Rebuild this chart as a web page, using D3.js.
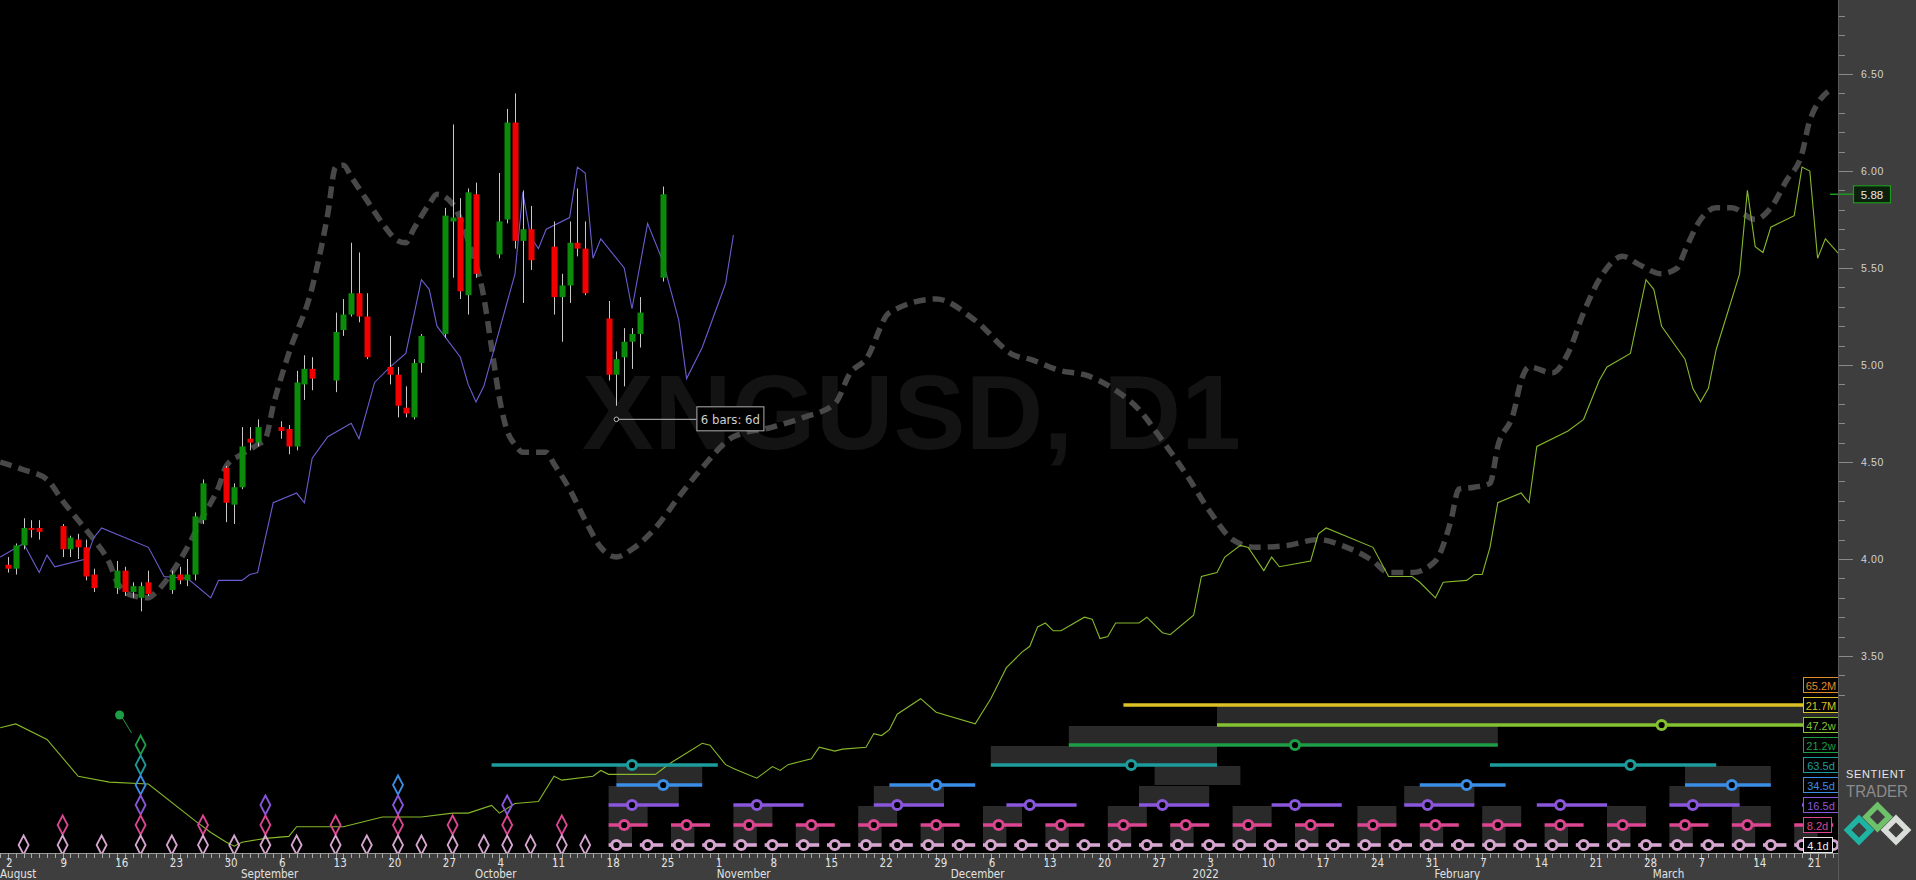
<!DOCTYPE html>
<html><head><meta charset="utf-8">
<script src="https://cdn.jsdelivr.net/npm/d3@7"></script>
<style>
html,body{margin:0;padding:0;background:#000;overflow:hidden}
svg{display:block}
</style></head><body>
<svg id="chart" width="1916" height="880"></svg>
<script>
// ---------------- DATA ----------------
const symbolText = "XNGUSD, D1";
const candleDates = ["2021-08-02","2021-08-03","2021-08-04","2021-08-05","2021-08-06","2021-08-09","2021-08-10","2021-08-11","2021-08-12","2021-08-13","2021-08-16","2021-08-17","2021-08-18","2021-08-19","2021-08-20","2021-08-23","2021-08-24","2021-08-25","2021-08-26","2021-08-27","2021-08-30","2021-08-31","2021-09-01","2021-09-02","2021-09-03","2021-09-06","2021-09-07","2021-09-08","2021-09-09","2021-09-10","2021-09-13","2021-09-14","2021-09-15","2021-09-16","2021-09-17","2021-09-20","2021-09-21","2021-09-22","2021-09-23","2021-09-24","2021-09-27","2021-09-28","2021-09-29","2021-09-30","2021-10-01","2021-10-04","2021-10-05","2021-10-06","2021-10-07","2021-10-08","2021-10-11","2021-10-12","2021-10-13","2021-10-14","2021-10-15","2021-10-18","2021-10-19","2021-10-20","2021-10-21","2021-10-22","2021-10-25"];
const candleOpen  = [3.97,3.95,4.07,4.16,4.16,4.17,4.05,4.10,4.06,3.92,3.85,3.94,3.83,3.80,3.88,3.84,3.92,3.89,3.92,4.20,4.47,4.28,4.37,4.62,4.60,4.68,4.67,4.58,4.90,4.98,4.92,5.18,5.26,5.37,5.25,4.99,4.95,4.78,4.73,5.01,5.16,5.74,5.76,5.36,5.88,5.57,5.75,6.25,5.64,5.70,5.61,5.35,5.41,5.63,5.60,5.24,4.95,5.04,5.12,5.16,5.45];
const candleHigh  = [4.01,4.08,4.21,4.20,4.20,4.18,4.12,4.13,4.10,3.95,3.99,3.96,3.88,3.88,3.94,3.94,3.96,4.00,4.24,4.41,4.48,4.39,4.68,4.68,4.72,4.71,4.69,4.97,5.05,5.04,5.27,5.34,5.63,5.58,5.37,5.15,4.99,4.89,5.03,5.16,5.81,6.24,5.86,5.91,5.94,5.99,6.32,6.40,5.90,5.82,5.74,5.47,5.74,5.91,5.74,5.33,5.07,5.19,5.19,5.35,5.92];
const candleLow   = [3.93,3.92,4.05,4.11,4.10,4.01,4.01,4.00,3.89,3.83,3.82,3.81,3.80,3.73,3.81,3.82,3.87,3.86,3.89,4.18,4.19,4.18,4.36,4.56,4.58,4.62,4.54,4.56,4.82,4.87,4.86,5.15,5.25,5.22,5.03,4.90,4.73,4.73,4.72,4.96,5.14,5.45,5.34,5.26,5.45,5.55,5.73,5.60,5.32,5.49,5.26,5.12,5.32,5.56,5.36,4.92,4.79,4.89,4.98,5.09,5.43];
const candleClose = [3.95,4.07,4.16,4.15,4.14,4.05,4.11,4.06,3.91,3.85,3.94,3.83,3.86,3.86,3.82,3.92,3.89,3.92,4.22,4.39,4.29,4.37,4.58,4.60,4.68,4.66,4.58,4.91,4.98,4.93,5.17,5.26,5.37,5.25,5.04,4.95,4.79,4.75,5.01,5.15,5.77,5.76,5.38,5.89,5.47,5.74,6.25,5.64,5.70,5.54,5.35,5.41,5.63,5.60,5.37,4.95,5.03,5.12,5.16,5.27,5.88];
const lastPrice = 5.88;

// Composite cycle model (thick dashed)
const modelDates = ["2021-08-01","2021-08-04","2021-08-07","2021-08-09","2021-08-11","2021-08-13","2021-08-15","2021-08-16","2021-08-18","2021-08-20","2021-08-21","2021-08-23","2021-08-25","2021-08-27","2021-08-29","2021-08-30","2021-09-01","2021-09-03","2021-09-04","2021-09-05","2021-09-07","2021-09-10","2021-09-12","2021-09-13","2021-09-14","2021-09-15","2021-09-17","2021-09-19","2021-09-21","2021-09-22","2021-09-23","2021-09-25","2021-09-26","2021-09-28","2021-09-30","2021-10-02","2021-10-03","2021-10-04","2021-10-05","2021-10-06","2021-10-07","2021-10-10","2021-10-11","2021-10-13","2021-10-15","2021-10-17","2021-10-19","2021-10-21","2021-10-24","2021-10-27","2021-10-30","2021-11-03","2021-11-08","2021-11-12","2021-11-16","2021-11-18","2021-11-20","2021-11-23","2021-11-29","2021-12-04","2021-12-09","2021-12-11","2021-12-15","2021-12-18","2021-12-22","2021-12-25","2021-12-28","2021-12-31","2022-01-03","2022-01-06","2022-01-09","2022-01-13","2022-01-17","2022-01-20","2022-01-24","2022-01-26","2022-01-29","2022-02-01","2022-02-03","2022-02-04","2022-02-06","2022-02-08","2022-02-09","2022-02-11","2022-02-12","2022-02-13","2022-02-16","2022-02-18","2022-02-20","2022-02-22","2022-02-25","2022-02-27","2022-03-02","2022-03-04","2022-03-05","2022-03-07","2022-03-09","2022-03-11","2022-03-14","2022-03-16","2022-03-18","2022-03-20","2022-03-21","2022-03-24"];
const modelValues = [4.50,4.46,4.41,4.30,4.20,4.10,3.98,3.88,3.81,3.80,3.83,3.93,4.06,4.22,4.37,4.48,4.54,4.59,4.62,4.79,5.06,5.40,5.78,6.02,6.03,5.97,5.85,5.73,5.64,5.63,5.70,5.83,5.88,5.83,5.64,5.35,5.09,4.83,4.66,4.59,4.55,4.55,4.49,4.36,4.20,4.06,4.01,4.05,4.16,4.32,4.47,4.63,4.68,4.73,4.80,4.96,5.03,5.27,5.34,5.23,5.05,5.03,4.97,4.95,4.87,4.77,4.61,4.44,4.25,4.10,4.06,4.07,4.10,4.07,3.99,3.93,3.93,3.99,4.20,4.36,4.37,4.39,4.58,4.75,4.92,4.99,4.96,5.06,5.27,5.44,5.56,5.52,5.47,5.50,5.59,5.75,5.81,5.81,5.75,5.81,5.95,6.09,6.26,6.43];

// Short FLD (thin purple)
const fldShortDates = ["2021-08-01","2021-08-04","2021-08-06","2021-08-07","2021-08-08","2021-08-12","2021-08-13","2021-08-14","2021-08-20","2021-08-22","2021-08-25","2021-08-28","2021-08-29","2021-09-01","2021-09-02","2021-09-03","2021-09-05","2021-09-08","2021-09-09","2021-09-10","2021-09-12","2021-09-15","2021-09-16","2021-09-18","2021-09-20","2021-09-22","2021-09-24","2021-09-25","2021-09-26","2021-09-29","2021-09-30","2021-10-01","2021-10-02","2021-10-06","2021-10-07","2021-10-08","2021-10-09","2021-10-10","2021-10-13","2021-10-14","2021-10-15","2021-10-16","2021-10-17","2021-10-20","2021-10-21","2021-10-23","2021-10-25","2021-10-27","2021-10-28","2021-10-30","2021-11-02","2021-11-03"];
const fldShortValues = [4.01,4.08,3.93,4.02,3.96,4.00,4.11,4.16,4.06,3.91,3.90,3.80,3.89,3.89,3.92,3.93,4.29,4.34,4.29,4.52,4.63,4.70,4.62,4.91,4.99,5.06,5.44,5.39,5.20,5.04,4.90,4.81,4.89,5.47,5.89,5.66,5.60,5.70,5.76,6.02,5.99,5.55,5.65,5.50,5.29,5.73,5.53,5.23,4.93,5.09,5.42,5.67];

// Long FLD (thin lime)
const fldLongDates = ["2021-08-01","2021-08-03","2021-08-07","2021-08-11","2021-08-15","2021-08-20","2021-08-26","2021-08-28","2021-08-30","2021-08-31","2021-09-01","2021-09-04","2021-09-07","2021-09-08","2021-09-14","2021-09-19","2021-09-24","2021-09-28","2021-09-30","2021-10-03","2021-10-04","2021-10-06","2021-10-09","2021-10-11","2021-10-12","2021-10-16","2021-10-17","2021-10-18","2021-10-24","2021-10-25","2021-10-26","2021-10-30","2021-10-31","2021-11-02","2021-11-03","2021-11-06","2021-11-08","2021-11-09","2021-11-10","2021-11-13","2021-11-14","2021-11-16","2021-11-17","2021-11-20","2021-11-21","2021-11-22","2021-11-23","2021-11-24","2021-11-27","2021-11-29","2021-12-04","2021-12-06","2021-12-07","2021-12-08","2021-12-10","2021-12-11","2021-12-12","2021-12-13","2021-12-14","2021-12-15","2021-12-18","2021-12-19","2021-12-20","2021-12-21","2021-12-22","2021-12-25","2021-12-26","2021-12-28","2021-12-29","2022-01-01","2022-01-02","2022-01-04","2022-01-05","2022-01-07","2022-01-08","2022-01-10","2022-01-11","2022-01-12","2022-01-16","2022-01-17","2022-01-18","2022-01-24","2022-01-26","2022-01-29","2022-01-30","2022-02-01","2022-02-02","2022-02-05","2022-02-06","2022-02-07","2022-02-08","2022-02-09","2022-02-12","2022-02-13","2022-02-14","2022-02-18","2022-02-20","2022-02-22","2022-02-23","2022-02-26","2022-02-28","2022-03-01","2022-03-02","2022-03-05","2022-03-06","2022-03-07","2022-03-08","2022-03-09","2022-03-12","2022-03-13","2022-03-14","2022-03-15","2022-03-16","2022-03-19","2022-03-20","2022-03-21","2022-03-22","2022-03-23","2022-03-25"];
const fldLongValues = [3.13,3.15,3.07,2.88,2.85,2.84,2.65,2.59,2.54,2.52,2.54,2.56,2.57,2.62,2.62,2.67,2.67,2.69,2.69,2.73,2.69,2.74,2.75,2.88,2.86,2.88,2.91,2.89,2.89,2.92,2.95,3.05,3.04,2.94,2.92,2.87,2.93,2.91,2.94,2.97,3.03,3.01,3.02,3.03,3.10,3.09,3.12,3.20,3.28,3.21,3.15,3.28,3.36,3.44,3.52,3.55,3.65,3.67,3.63,3.63,3.70,3.69,3.59,3.60,3.67,3.67,3.70,3.62,3.61,3.71,3.91,3.93,4.01,4.07,4.06,3.94,4.01,3.96,3.99,4.13,4.16,4.06,3.91,3.91,3.88,3.80,3.88,3.89,3.92,3.92,4.06,4.29,4.34,4.29,4.58,4.66,4.72,4.92,4.99,5.06,5.44,5.39,5.20,5.03,4.88,4.81,4.88,5.08,5.47,5.90,5.61,5.58,5.71,5.77,6.02,6.00,5.55,5.65,5.56];

// Cycle rows (labels top to bottom)
const cycleLabels = ["65.2M","21.7M","47.2w","21.2w","63.5d","34.5d","16.5d","8.2d","4.1d"];
const troughs21_7M = ["2022-06-01"];
const troughs47_2w = ["2022-03-02"];
const troughs21_2w = ["2022-01-14"];
const troughs63_5d = ["2021-10-21","2021-12-24","2022-02-26"];
const troughs34_5d = ["2021-10-25","2021-11-29","2022-02-05","2022-03-11"];
const troughs16_5d = ["2021-10-21","2021-11-06","2021-11-24","2021-12-11","2021-12-28","2022-01-14","2022-01-31","2022-02-17","2022-03-06","2022-03-23"];
const troughs8_2d = ["2021-10-20","2021-10-28","2021-11-05","2021-11-13","2021-11-21","2021-11-29","2021-12-07","2021-12-15","2021-12-23","2021-12-31","2022-01-08","2022-01-16","2022-01-24","2022-02-01","2022-02-09","2022-02-17","2022-02-25","2022-03-05","2022-03-13","2022-03-21"];
const troughs4_1d = ["2021-10-19","2021-10-23","2021-10-27","2021-10-31","2021-11-04","2021-11-08","2021-11-12","2021-11-16","2021-11-20","2021-11-24","2021-11-28","2021-12-02","2021-12-06","2021-12-10","2021-12-14","2021-12-18","2021-12-22","2021-12-26","2021-12-30","2022-01-03","2022-01-07","2022-01-11","2022-01-15","2022-01-19","2022-01-23","2022-01-27","2022-01-31","2022-02-04","2022-02-08","2022-02-12","2022-02-16","2022-02-20","2022-02-24","2022-02-28","2022-03-04","2022-03-08","2022-03-12","2022-03-16","2022-03-20","2022-03-24"];
// windows (grey boxes) around these troughs
const windows47_2w = ["2022-03-02"];
const windows21_2w = ["2022-01-14"];
const windows63_5d = ["2021-12-24"];
const windows34_5d = ["2021-10-25","2022-01-02","2022-03-11"];
const windows16_5d = ["2021-10-21","2021-11-24","2021-12-28","2022-01-31","2022-03-06"];
const windows8_2d = ["2021-10-20","2021-11-05","2021-11-21","2021-12-07","2021-12-23","2022-01-08","2022-01-24","2022-02-09","2022-02-25","2022-03-13"];
const windows4_1d = ["2021-10-19","2021-10-27","2021-11-04","2021-11-12","2021-11-20","2021-11-28","2021-12-06","2021-12-14","2021-12-22","2021-12-30","2022-01-07","2022-01-15","2022-01-23","2022-01-31","2022-02-08","2022-02-16","2022-02-24","2022-03-04","2022-03-12","2022-03-20"];
// historical troughs (diamonds)
const hist21_2w = ["2021-08-19"];
const hist63_5d = ["2021-08-19"];
const hist34_5d = ["2021-08-19","2021-09-21"];
const hist16_5d = ["2021-08-19","2021-09-04","2021-09-21","2021-10-05"];
const hist8_2d = ["2021-08-09","2021-08-19","2021-08-27","2021-09-04","2021-09-13","2021-09-21","2021-09-28","2021-10-05","2021-10-12"];
const hist4_1d = ["2021-08-04","2021-08-09","2021-08-14","2021-08-19","2021-08-23","2021-08-27","2021-08-31","2021-09-04","2021-09-08","2021-09-13","2021-09-17","2021-09-21","2021-09-24","2021-09-28","2021-10-02","2021-10-05","2021-10-08","2021-10-12","2021-10-15"];

const annotDate = "2021-10-19", annotPrice = 4.72, annotText = "6 bars: 6d";
const priceTicks = [3.5,4.0,4.5,5.0,5.5,6.0,6.5];

// ---------------- DRAWING ----------------
const W = 1916, H = 880, PR = 1838, PB = 853;
const parse = d3.utcParse("%Y-%m-%d");
const svg = d3.select("#chart");
const x = d3.scaleUtc().domain([parse("2021-08-02"), parse("2022-03-21")]).range([8, 1809.8]);
const y = d3.scaleLinear().domain([3.5, 6.5]).range([656, 74]);
const condensed = "'Liberation Sans Narrow','Arial Narrow','DejaVu Sans Condensed','Roboto Condensed',sans-serif";

svg.append("rect").attr("width", W).attr("height", H).attr("fill", "#000");
svg.append("defs").append("clipPath").attr("id", "plot")
  .append("rect").attr("x", 0).attr("y", 0).attr("width", PR).attr("height", PB);
const plot = svg.append("g").attr("clip-path", "url(#plot)");

// watermark
plot.append("text").attr("x", 582).attr("y", 449)
  .attr("font-family", "'Liberation Sans',Arial,sans-serif").attr("font-weight", "bold")
  .attr("font-size", 106).attr("fill", "#131313")
  .attr("textLength", 659).attr("lengthAdjust", "spacingAndGlyphs").text(symbolText);

// cycle rows config (style/layout)
const rowColors = ["#e08a2a","#dcc224","#84c232","#1d9e46","#1c9c9c","#3a8ee6","#8a56dc","#dc4690","#d6a6d0"];
const rowY = i => 685 + 20 * i;
const rowExt = { // days before / after trough for the marker segment
  "21.7M": [160, 200], "47.2w": [57, 80], "21.2w": [29, 26], "63.5d": [18, 11],
  "34.5d": [6, 5], "16.5d": [3, 6], "8.2d": [2, 3], "4.1d": [1, 2]
};
const rowTroughs = { "21.7M": troughs21_7M, "47.2w": troughs47_2w, "21.2w": troughs21_2w, "63.5d": troughs63_5d, "34.5d": troughs34_5d, "16.5d": troughs16_5d, "8.2d": troughs8_2d, "4.1d": troughs4_1d };
const rowWindows = { "47.2w": windows47_2w, "21.2w": windows21_2w, "63.5d": windows63_5d, "34.5d": windows34_5d, "16.5d": windows16_5d, "8.2d": windows8_2d, "4.1d": windows4_1d };
const rowHist = { "21.2w": hist21_2w, "63.5d": hist63_5d, "34.5d": hist34_5d, "16.5d": hist16_5d, "8.2d": hist8_2d, "4.1d": hist4_1d };
const off = (s, n) => d3.utcDay.offset(parse(s), n);

// windows (grey boxes)
cycleLabels.forEach((lab, i) => {
  (rowWindows[lab] || []).forEach(t => {
    const [l, r] = rowExt[lab];
    const x0 = x(off(t, -l)), x1 = x(off(t, r));
    plot.append("rect").attr("x", x0).attr("y", rowY(i) - 19).attr("width", x1 - x0).attr("height", 19)
      .attr("fill", "#2a2a2a");
  });
});

// model dashed line
const modelData = modelDates.map((d, i) => [parse(d), modelValues[i]]);
plot.append("path").datum(modelData)
  .attr("d", d3.line().x(d => x(d[0])).y(d => y(d[1])).curve(d3.curveMonotoneX))
  .attr("fill", "none").attr("stroke", "#484848").attr("stroke-width", 5.5).attr("stroke-dasharray", "12,7");

// long FLD
const longData = fldLongDates.map((d, i) => [parse(d), fldLongValues[i]]);
plot.append("path").datum(longData)
  .attr("d", d3.line().x(d => x(d[0])).y(d => y(d[1])))
  .attr("fill", "none").attr("stroke", "#86b82a").attr("stroke-width", 1.1);

// short FLD
const shortData = fldShortDates.map((d, i) => [parse(d), fldShortValues[i]]);
plot.append("path").datum(shortData)
  .attr("d", d3.line().x(d => x(d[0])).y(d => y(d[1])))
  .attr("fill", "none").attr("stroke", "#6a5ed0").attr("stroke-width", 1.1);

// candles
const candles = candleDates.map((d, i) => ({ t: parse(d), o: candleOpen[i], h: candleHigh[i], l: candleLow[i], c: candleClose[i] }));
const cg = plot.append("g");
cg.selectAll("line.wick").data(candles).join("line")
  .attr("x1", d => Math.round(x(d.t)) + 0.5).attr("x2", d => Math.round(x(d.t)) + 0.5)
  .attr("y1", d => y(d.h)).attr("y2", d => y(d.l)).attr("stroke", "#c8c8c8").attr("stroke-width", 1);
cg.selectAll("rect.body").data(candles).join("rect")
  .attr("x", d => Math.round(x(d.t)) - 2.5).attr("width", 6)
  .attr("y", d => y(Math.max(d.o, d.c))).attr("height", d => Math.max(1.5, Math.abs(y(d.o) - y(d.c))))
  .attr("fill", d => d.c >= d.o ? "#0a8c0a" : "#f20000");

// cycle markers
cycleLabels.forEach((lab, i) => {
  const col = rowColors[i], yy = rowY(i);
  const ext = rowExt[lab];
  (rowTroughs[lab] || []).forEach(t => {
    const x0 = x(off(t, -ext[0])), x1 = x(off(t, ext[1])), xc = x(parse(t));
    plot.append("line").attr("x1", x0).attr("x2", x1).attr("y1", yy).attr("y2", yy)
      .attr("stroke", col).attr("stroke-width", 3.6);
    plot.append("circle").attr("cx", xc).attr("cy", yy).attr("r", 4.6)
      .attr("fill", "#000").attr("stroke", col).attr("stroke-width", 3);
  });
  (rowHist[lab] || []).forEach(t => {
    const xc = x(parse(t));
    plot.append("path").attr("d", `M${xc},${yy - 9.5}L${xc + 5},${yy}L${xc},${yy + 9.5}L${xc - 5},${yy}Z`)
      .attr("fill", "none").attr("stroke", col).attr("stroke-width", 1.8);
  });
});
// green trough dot with connector
{
  const xc = x(parse(hist21_2w[0]));
  plot.append("line").attr("x1", xc - 20).attr("y1", rowY(3) - 30).attr("x2", xc - 9).attr("y2", rowY(3) - 12)
    .attr("stroke", rowColors[3]).attr("stroke-width", 1);
  plot.append("circle").attr("cx", xc - 21).attr("cy", rowY(3) - 30).attr("r", 4.5).attr("fill", rowColors[3]);
}

// annotation
{
  const ax = x(parse(annotDate)), ay = y(annotPrice);
  plot.append("line").attr("x1", ax + 2).attr("x2", ax + 80).attr("y1", ay).attr("y2", ay).attr("stroke", "#bdbdbd").attr("stroke-width", 1);
  plot.append("circle").attr("cx", ax).attr("cy", ay).attr("r", 2.3).attr("fill", "#000").attr("stroke", "#bdbdbd").attr("stroke-width", 1);
  plot.append("rect").attr("x", ax + 80.5).attr("y", ay - 12.5).attr("width", 67).attr("height", 24)
    .attr("fill", "#000").attr("stroke", "#b0b0b0").attr("stroke-width", 1);
  plot.append("text").attr("x", ax + 114).attr("y", ay + 4.5).attr("text-anchor", "middle")
    .attr("font-family", condensed).attr("font-size", 13).attr("fill", "#cfcfcf").text(annotText);
}

// ---------- right axis panel ----------
svg.append("rect").attr("x", PR).attr("y", 0).attr("width", W - PR).attr("height", H).attr("fill", "#3e3e3e");
const minor = d3.range(33, 69).map(v => v / 10);
svg.selectAll("line.ptick").data(minor).join("line")
  .attr("x1", PR).attr("x2", d => PR + (Math.abs(d * 2 - Math.round(d * 2)) < 1e-6 ? 15 : 7))
  .attr("y1", d => Math.round(y(d)) + 0.5).attr("y2", d => Math.round(y(d)) + 0.5)
  .attr("stroke", "#8a8a8a").attr("stroke-width", 1);
svg.selectAll("text.plab").data(priceTicks).join("text")
  .attr("x", 1861).attr("y", d => y(d) + 4).attr("font-family", "'Liberation Sans',Arial,sans-serif")
  .attr("font-size", 10.5).attr("fill", "#d2d2d2").attr("letter-spacing", 0.6).text(d => d.toFixed(2));
// last price tag
{
  const ly = y(lastPrice);
  svg.append("line").attr("x1", 1830).attr("x2", 1854).attr("y1", ly).attr("y2", ly).attr("stroke", "#1c9a1c").attr("stroke-width", 1.5);
  svg.append("rect").attr("x", 1853.5).attr("y", ly - 8.5).attr("width", 37).attr("height", 17)
    .attr("fill", "#0c1e0c").attr("stroke", "#1c9a1c").attr("stroke-width", 1.2);
  svg.append("text").attr("x", 1872).attr("y", ly + 4.5).attr("text-anchor", "middle")
    .attr("font-family", "'Liberation Sans',Arial,sans-serif").attr("font-size", 11.5).attr("fill", "#e8e8e8").text(lastPrice.toFixed(2));
}
// logo
svg.append("text").attr("x", 1846).attr("y", 778).attr("font-family", "'Liberation Sans',Arial,sans-serif")
  .attr("font-size", 11).attr("fill", "#e6e6e6").attr("textLength", 59).attr("lengthAdjust", "spacing").text("SENTIENT");
svg.append("text").attr("x", 1846).attr("y", 797).attr("font-family", "'Liberation Sans',Arial,sans-serif")
  .attr("font-size", 17).attr("fill", "#8c8c8c").attr("textLength", 62).attr("lengthAdjust", "spacingAndGlyphs").text("TRADER");
[[1859, 830, "#1fb3a4"], [1877.5, 817, "#6fc06a"], [1896, 830, "#d8ddd8"]].forEach(([cx, cy, c]) => {
  const r = 11.5;
  svg.append("path").attr("d", `M${cx},${cy - r}L${cx + r},${cy}L${cx},${cy + r}L${cx - r},${cy}Z`)
    .attr("fill", "none").attr("stroke", c).attr("stroke-width", 5.5).attr("stroke-linejoin", "miter");
});

// cycle labels
cycleLabels.forEach((lab, i) => {
  const yy = rowY(i), w = lab === "8.2d" ? 28 : (lab === "4.1d" ? 29 : 35);
  svg.append("rect").attr("x", 1803.5).attr("y", yy - 7.5).attr("width", w).attr("height", 15)
    .attr("fill", "#000").attr("stroke", i === 8 ? "#e8e8e8" : rowColors[i]).attr("stroke-width", 1);
  svg.append("text").attr("x", 1803.5 + w / 2).attr("y", yy + 4.5).attr("text-anchor", "middle")
    .attr("font-family", "'Liberation Sans',Arial,sans-serif").attr("font-size", 11)
    .attr("fill", i === 8 ? "#f0f0f0" : rowColors[i]).text(lab);
});

// ---------- bottom axis ----------
svg.append("rect").attr("x", 0).attr("y", PB).attr("width", W).attr("height", H - PB).attr("fill", "#3e3e3e");
svg.append("line").attr("x1", 0).attr("x2", PR).attr("y1", PB + 0.5).attr("y2", PB + 0.5).attr("stroke", "#9a9a9a");
const days = d3.utcDay.range(parse("2021-08-01"), parse("2022-03-26"));
svg.selectAll("line.dtick").data(days).join("line")
  .attr("x1", d => Math.round(x(d)) + 0.5).attr("x2", d => Math.round(x(d)) + 0.5)
  .attr("y1", PB).attr("y2", d => PB + (d.getUTCDay() === 1 ? 8 : 5))
  .attr("stroke", "#a8a8a8").attr("stroke-width", 1);
const mondays = d3.utcMonday.range(parse("2021-08-01"), parse("2022-03-26"));
svg.selectAll("text.dlab").data(mondays).join("text")
  .attr("x", d => x(d) - 2).attr("y", 867).attr("font-family", condensed).attr("font-size", 11.5)
  .attr("fill", "#e2e2e2").text(d => d.getUTCDate());
const months = d3.utcMonth.range(parse("2021-08-01"), parse("2022-03-26"));
svg.selectAll("text.mlab").data(months).join("text")
  .attr("x", d => Math.max(0, x(d) - 1)).attr("y", 878).attr("font-family", condensed).attr("font-size", 11.5)
  .attr("fill", "#e2e2e2").text(d => d.getUTCMonth() === 0 ? String(d.getUTCFullYear()) : d3.utcFormat("%B")(d));
svg.append("rect").attr("x", PR).attr("y", PB).attr("width", W - PR).attr("height", H - PB).attr("fill", "#3e3e3e");
svg.append("line").attr("x1", PR + 0.5).attr("x2", PR + 0.5).attr("y1", 0).attr("y2", H).attr("stroke", "#5a5a5a");
</script>
</body></html>
